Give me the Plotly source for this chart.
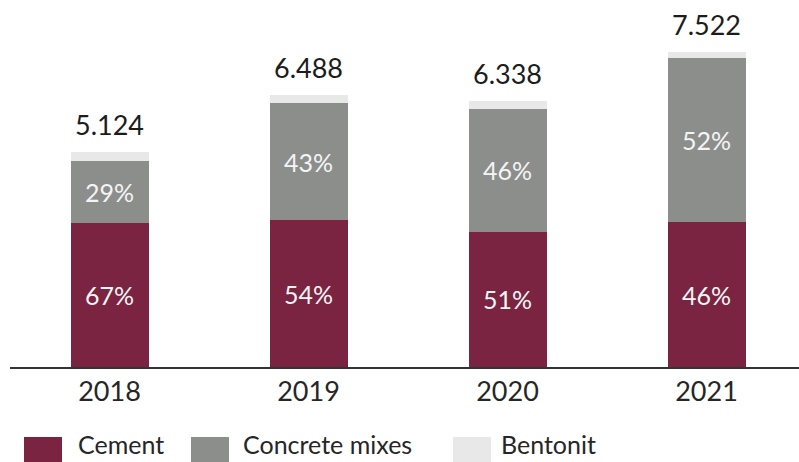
import plotly.graph_objects as go

years = ["2018", "2019", "2020", "2021"]
totals = [5.124, 6.488, 6.338, 7.522]
cement_pct = [67, 54, 51, 46]
concrete_pct = [29, 43, 46, 52]
total_labels = ["5.124", "6.488", "6.338", "7.522"]

series_names = ["Cement", "Concrete mixes", "Bentonit"]
series_colors = ["#7a2441", "#8c8e8c", "#e8e8e8"]

bentonit_pct = [100 - a - b for a, b in zip(cement_pct, concrete_pct)]
pct_by_series = [cement_pct, concrete_pct, bentonit_pct]

FONT = "Lato"

fig = go.Figure()
for name, color, pcts in zip(series_names, series_colors, pct_by_series):
    values = [t * p / 100 for t, p in zip(totals, pcts)]
    show_text = name != "Bentonit"
    fig.add_trace(go.Bar(
        x=years,
        y=values,
        name=name,
        marker=dict(color=color, line=dict(width=0)),
        text=[f"{p}%" for p in pcts] if show_text else None,
        textposition="inside" if show_text else "none",
        insidetextanchor="middle",
        textangle=0,
        constraintext="none",
        textfont=dict(family=FONT, size=25, color="#f4f4f4"),
        hoverinfo="skip",
        showlegend=False,
    ))

# totals above each stack (category index as x position)
for i, (tot, lab) in enumerate(zip(totals, total_labels)):
    fig.add_annotation(
        x=i, y=tot, text=lab, showarrow=False,
        xref="x", yref="y", yanchor="bottom", yshift=9,
        font=dict(family=FONT, size=27, color="#1c1c1c"),
    )

# layout geometry (pixels)
W, H = 799, 462
L, R, T, B = 10, 0, 20, 95
pw, ph = W - L - R, H - T - B


def px_x(px):
    return (px - L) / pw


def px_y(py):
    return (H - B - py) / ph


# legend row
legend_items = [(24, 77), (191, 242), (453, 500)]
for (sx, tx), name, color in zip(legend_items, series_names, series_colors):
    fig.add_shape(
        type="rect", xref="paper", yref="paper",
        x0=px_x(sx), x1=px_x(sx + 38), y0=px_y(468), y1=px_y(437),
        fillcolor=color, line=dict(width=0),
    )
    fig.add_annotation(
        x=px_x(tx), y=px_y(444), xref="paper", yref="paper",
        text=name, showarrow=False, xanchor="left", yanchor="middle",
        borderpad=0,
        font=dict(family=FONT, size=25, color="#262626"),
    )

fig.update_layout(
    width=W, height=H,
    margin=dict(l=L, r=R, t=T, b=B, pad=0),
    barmode="stack",
    bargap=0.608,
    paper_bgcolor="white",
    plot_bgcolor="white",
    xaxis=dict(
        type="category",
        range=[-0.5, -0.5 + pw / 199],
        showline=True, linecolor="#333333", linewidth=1.5,
        ticks="", showgrid=False,
        tickfont=dict(family=FONT, size=27, color="#262626"),
    ),
    yaxis=dict(
        range=[0, ph / 41.9],
        visible=False, showgrid=False, zeroline=False,
    ),
    showlegend=False,
)

fig.write_html("out.html")
